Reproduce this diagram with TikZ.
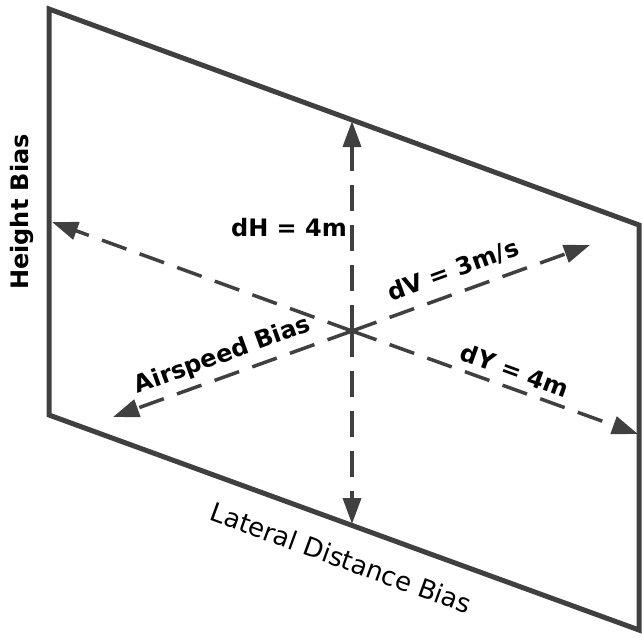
\documentclass[tikz,border=0pt]{standalone}
\usepackage{fontspec}
\setmainfont{DejaVu Sans}
\usetikzlibrary{arrows.meta}
\definecolor{ink}{HTML}{404040}
\begin{document}
\begin{tikzpicture}[x=1pt,y=-1pt,
  frame/.style={draw=ink,line width=5pt,line join=miter},
  axis/.style={draw=ink,line width=3.5pt,dash pattern=on 26pt off 14pt,
    -{Triangle[length=26pt,width=18pt]}},
  lbl/.style={font=\bfseries\fontsize{24}{24}\selectfont,text=black,inner sep=0pt,anchor=base},
  lblr/.style={font=\fontsize{26}{26}\selectfont,text=black,inner sep=0pt,anchor=base}]
\useasboundingbox (0,0) rectangle (642,637);
% frame
\coordinate (tl) at (49,9);
\coordinate (tr) at (639,225);
\coordinate (br) at (639,630);
\coordinate (bl) at (49,415);
\draw[frame] (tl) -- (tr) -- (br) -- (bl) -- cycle;
% axes
\coordinate (c) at (352,331);
\coordinate (hT) at (352,121);
\coordinate (hB) at (352,524);
\coordinate (yL) at (52,222);
\coordinate (yR) at (638,434);
\coordinate (vL) at (113,417);
\coordinate (vR) at (590,245);
\draw[axis] (c) -- (hT);
\draw[axis] (c) -- (hB);
\draw[axis] (c) -- (yL);
\draw[axis] (c) -- (yR);
\draw[axis] (c) -- (vL);
\draw[axis] (c) -- (vR);
% labels
\node[lbl,rotate=90] (hb) at (28,212) {Height Bias};
\node[lbl] (dh) at (289,236) {dH = 4m};
\node[lbl,rotate=20] (dv) at (456,278) {dV = 3m/s};
\node[lbl,rotate=-20] (dy) at (512,379) {dY = 4m};
\node[lbl,rotate=20] (ab) at (225,362) {Airspeed Bias};
\node[lblr,rotate=-20] (ld) at (338,567) {Lateral Distance Bias};
\end{tikzpicture}
\end{document}
